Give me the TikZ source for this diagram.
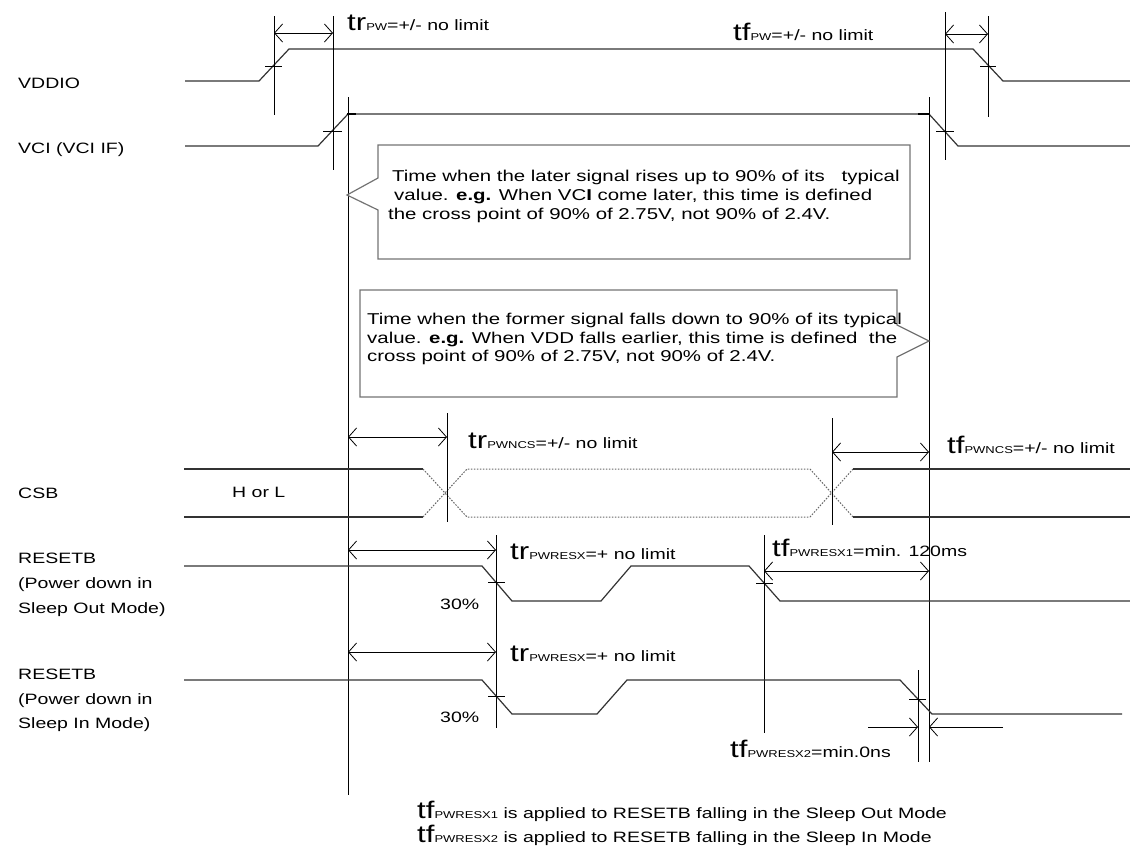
\documentclass[tikz,border=0pt]{standalone}
\usepackage{fontspec}
\setmainfont{Liberation Sans}[FakeStretch=1.3]
\usetikzlibrary{arrows.meta}
\newcommand{\tsym}[3]{{\fontsize{24}{24}\selectfont #1}{\fontsize{10}{10}\selectfont #2}#3}
\begin{document}
\begin{tikzpicture}[x=1pt,y=-1pt,
  sig/.style={line width=1.2pt, draw=black!80, line join=miter},
  dotsig/.style={line width=1pt, draw=black!60, dash pattern=on 1.6pt off 1.4pt},
  vl/.style={line width=0.8pt, draw=black},
  tk/.style={line width=0.9pt, draw=black},
  dimarrow/.style={line width=0.8pt, draw=black, {Straight Barb[length=8pt,width=18pt]}-{Straight Barb[length=8pt,width=18pt]}},
  onearrow/.style={line width=0.8pt, draw=black, -{Straight Barb[length=8pt,width=18pt]}},
  txt/.style={anchor=base west, inner sep=0pt, font=\fontsize{15}{19}\selectfont},
  btxt/.style={anchor=base west, inner sep=0pt, font=\fontsize{15.7}{19}\selectfont},
  callout/.style={draw=black!55, line width=1.2pt}]
\useasboundingbox (0,0) rectangle (1130,857);
% ---------- labels
\node[txt] (lvddio) at (18,88) {VDDIO};
\node[txt] (lvci) at (18,153) {VCI (VCI IF)};
\node[txt] (lcsb) at (18,498) {CSB};
\node[txt] (lhl) at (232,497) {H or L};
\node[txt] (lr1a) at (18,563) {RESETB};
\node[txt] (lr1b) at (18,588) {(Power down in};
\node[txt] (lr1c) at (18,613) {Sleep Out Mode)};
\node[txt] (lr2a) at (18,679) {RESETB};
\node[txt] (lr2b) at (18,704) {(Power down in};
\node[txt] (lr2c) at (18,728) {Sleep In Mode)};
% ---------- VDDIO
\draw[sig] (185,81) -- (259,81) -- (289,49) -- (973,49) -- (1003,81) -- (1130,81);
\draw[tk] (265,66) -- (282,66);
\draw[tk] (980,66) -- (996,66);
% ---------- VCI
\draw[sig] (185,146) -- (318,146) -- (348,114) -- (929,114) -- (958,146) -- (1130,146);
\draw[tk] (323,131) -- (342,131);
\draw[tk] (936,131) -- (954,131);
\draw[line width=2pt] (347,114) -- (356,114);
\draw[line width=2pt] (918,114) -- (929,114);
% ---------- verticals
\draw[vl] (274,16) -- (274,115);
\draw[vl] (333,16) -- (333,170);
\draw[vl] (945,12) -- (945,160);
\draw[vl] (988,16) -- (988,117);
\draw[vl] (348,97) -- (348,795);
\draw[vl] (929,97) -- (929,762);
% ---------- top dimensions
\draw[dimarrow] (274,33) -- (333,33);
\draw[dimarrow] (945,34) -- (988,34);
\node[txt] (ttrpw) at (347,30) {\tsym{tr}{PW}{=+/- no limit}};
\node[txt] (ttfpw) at (733,40) {\tsym{tf}{PW}{=+/- no limit}};
% ---------- callouts
\draw[callout] (378,145) -- (910,145) -- (910,259) -- (378,259) -- (378,210) -- (347,195) -- (378,178) -- cycle;
\node[btxt] (b1a) at (392,181) {Time when the later signal rises up to 90\% of its\ \ \ typical};
\node[btxt] (b1b) at (394,200) {value. \textbf{e.g.} When VC\textbf{I} come later, this time is defined};
\node[btxt] (b1c) at (388,219) {the cross point of 90\% of 2.75V, not 90\% of 2.4V.};
\draw[callout] (360,290) -- (897,290) -- (897,325) -- (929,341) -- (897,357) -- (897,397) -- (360,397) -- cycle;
\node[btxt] (b2a) at (367,324) {Time when the former signal falls down to 90\% of its typical};
\node[btxt] (b2b) at (367,343) {value. \textbf{e.g.} When VDD falls earlier, this time is defined\ \ the};
\node[btxt] (b2c) at (367,361) {cross point of 90\% of 2.75V, not 90\% of 2.4V.};
% ---------- CSB
\draw[sig] (184,469) -- (423,469);
\draw[sig] (184,517) -- (423,517);
\draw[dotsig] (423,469) -- (467,517) -- (810,517) -- (853,469);
\draw[dotsig] (423,517) -- (467,469) -- (810,469) -- (853,517);
\draw[sig] (853,469) -- (1130,469);
\draw[sig] (853,517) -- (1130,517);
\draw[vl] (447,413) -- (447,522);
\draw[vl] (832,418) -- (832,525);
\draw[dimarrow] (348,437) -- (447,437);
\draw[dimarrow] (832,452) -- (929,452);
\node[txt] (ttrcs) at (468,448) {\tsym{tr}{PWNCS}{=+/- no limit}};
\node[txt] (ttfcs) at (947,453) {\tsym{tf}{PWNCS}{=+/- no limit}};
% ---------- RESETB 1
\draw[sig] (184,566) -- (482,566) -- (512,601) -- (601,601) -- (631,566) -- (749,566) -- (780,601) -- (1130,601);
\draw[vl] (496,535) -- (496,728);
\draw[vl] (764,535) -- (764,733);
\draw[tk] (488,582) -- (505,582);
\draw[tk] (756,583) -- (773,583);
\draw[dimarrow] (348,550) -- (496,550);
\draw[dimarrow] (764,571) -- (929,571);
\node[txt] (ttrr1) at (510,559) {\tsym{tr}{PWRESX}{=+ no limit}};
\node[txt] (ttfr1) at (772,556) {\tsym{tf}{PWRESX1}{=min. 120ms}};
\node[txt] (p30a) at (440,609) {30\%};
% ---------- RESETB 2
\draw[sig] (184,680) -- (482,680) -- (512,714) -- (597,714) -- (627,680) -- (900,680) -- (932,714) -- (1122,714);
\draw[vl] (918,670) -- (918,762);
\draw[tk] (488,696) -- (505,696);
\draw[tk] (909,699) -- (926,699);
\draw[dimarrow] (348,652) -- (496,652);
\node[txt] (ttrr2) at (510,661) {\tsym{tr}{PWRESX}{=+ no limit}};
\node[txt] (p30b) at (440,722) {30\%};
\draw[onearrow] (868,727) -- (918,727);
\draw[onearrow] (1003,727) -- (929,727);
\node[txt] (ttfr2) at (730,757) {\tsym{tf}{PWRESX2}{=min.0ns}};
% ---------- notes
\node[txt] (n1) at (417,818) {\tsym{tf}{PWRESX1}{ is applied to RESETB falling in the Sleep Out Mode}};
\node[txt] (n2) at (417,842) {\tsym{tf}{PWRESX2}{ is applied to RESETB falling in the Sleep In Mode}};
\end{tikzpicture}
\end{document}
